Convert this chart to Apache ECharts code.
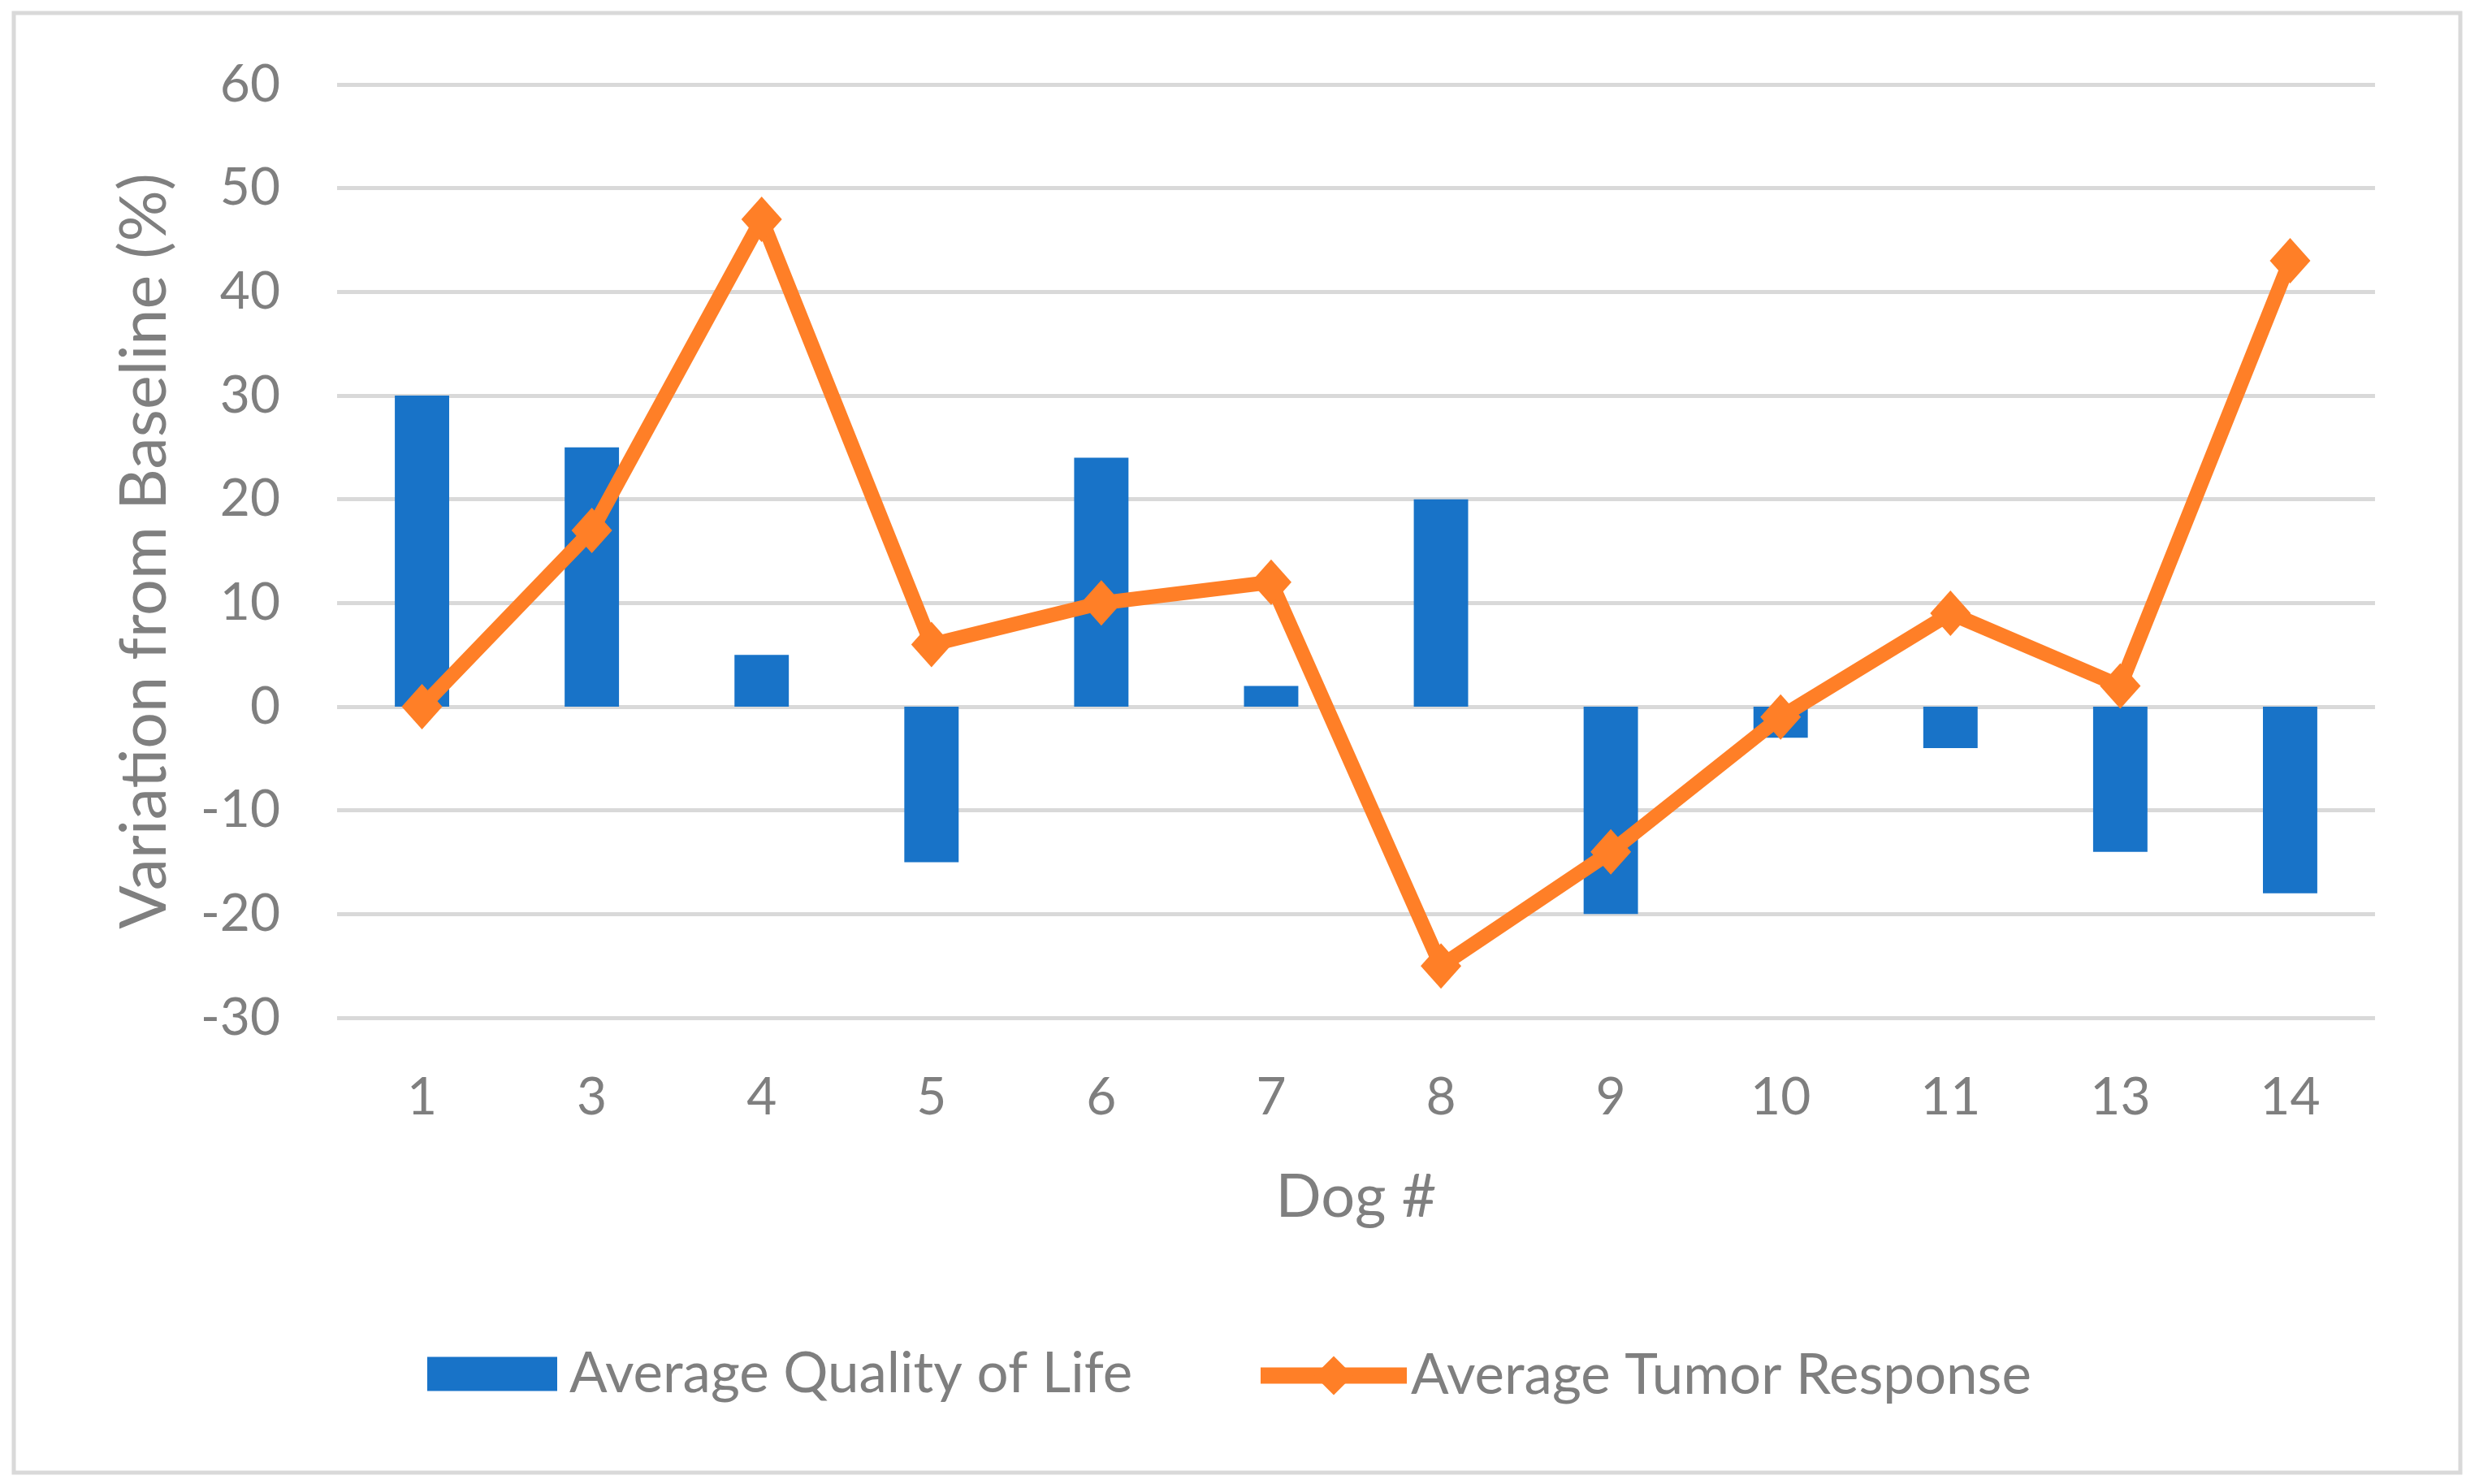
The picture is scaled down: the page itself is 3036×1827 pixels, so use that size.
<!DOCTYPE html>
<html>
<head>
<meta charset="utf-8">
<script src="https://cdn.jsdelivr.net/npm/echarts@6/dist/echarts.min.js"></script>
<style>
html,body{margin:0;padding:0;background:#fff;}
#c{width:3036px;height:1827px;}
</style>
</head>
<body>
<div id="c"></div>
<script>
const categories = ['1','3','4','5','6','7','8','9','10','11','13','14'];
const qualityOfLife = [30, 25, 5, -15, 24, 2, 20, -20, -3, -4, -14, -18];
const tumorResponse = [0, 17, 47, 6, 10, 12, -25, -14, -1, 9, 2, 43];
const yMin = -30, yMax = 60, yStep = 10;

const FONT = 'Lato';
const GRAY = '#7f7f7f';
const ORANGE = '#ff7f27';
const chart = echarts.init(document.getElementById('c'));
chart.setOption({
  animation: false,
  backgroundColor: '#fff',
  textStyle: { fontFamily: FONT },
  graphic: [{
    type: 'rect',
    shape: { x: 17, y: 16, width: 3012, height: 1797 },
    style: { fill: 'none', stroke: '#d9d9d9', lineWidth: 5 },
    silent: true
  }],
  grid: { left: 415, right: 112, top: 104, bottom: 574, containLabel: false },
  legend: [{
    data: [{ name: 'Average Quality of Life', icon: 'rect' }],
    left: 521, top: 1652,
    itemWidth: 160, itemHeight: 42,
    textStyle: { color: GRAY, fontSize: 69, fontFamily: FONT, padding: [0, 0, 0, 10] }
  }, {
    data: ['Average Tumor Response'],
    left: 1537, top: 1654,
    itemWidth: 180, itemHeight: 60,
    lineStyle: { width: 20 },
    textStyle: { color: GRAY, fontSize: 69, fontFamily: FONT }
  }],
  xAxis: {
    type: 'category',
    data: categories,
    name: 'Dog #',
    nameLocation: 'middle',
    nameGap: 184,
    nameTextStyle: { color: GRAY, fontSize: 74, fontFamily: FONT },
    axisLine: { show: false },
    axisTick: { show: false },
    axisLabel: { color: GRAY, fontSize: 64, margin: 66, fontFamily: FONT }
  },
  yAxis: {
    type: 'value',
    min: yMin, max: yMax, interval: yStep,
    name: 'Variation from Baseline (%)',
    nameLocation: 'middle',
    nameGap: 197,
    nameRotate: 90,
    nameTextStyle: { color: GRAY, fontSize: 79, fontFamily: FONT },
    axisLine: { show: false },
    axisTick: { show: false },
    axisLabel: { color: GRAY, fontSize: 64, margin: 70, fontFamily: FONT },
    splitLine: { lineStyle: { color: '#d9d9d9', width: 5 } }
  },
  series: [{
    name: 'Average Quality of Life',
    type: 'bar',
    data: qualityOfLife,
    barWidth: '32%',
    itemStyle: { color: '#1873c8' },
    z: 2
  }, {
    name: 'Average Tumor Response',
    type: 'line',
    data: tumorResponse,
    symbol: 'diamond',
    symbolSize: [50, 56],
    lineStyle: { color: ORANGE, width: 18 },
    itemStyle: { color: ORANGE },
    z: 3
  }]
});
</script>
</body>
</html>
